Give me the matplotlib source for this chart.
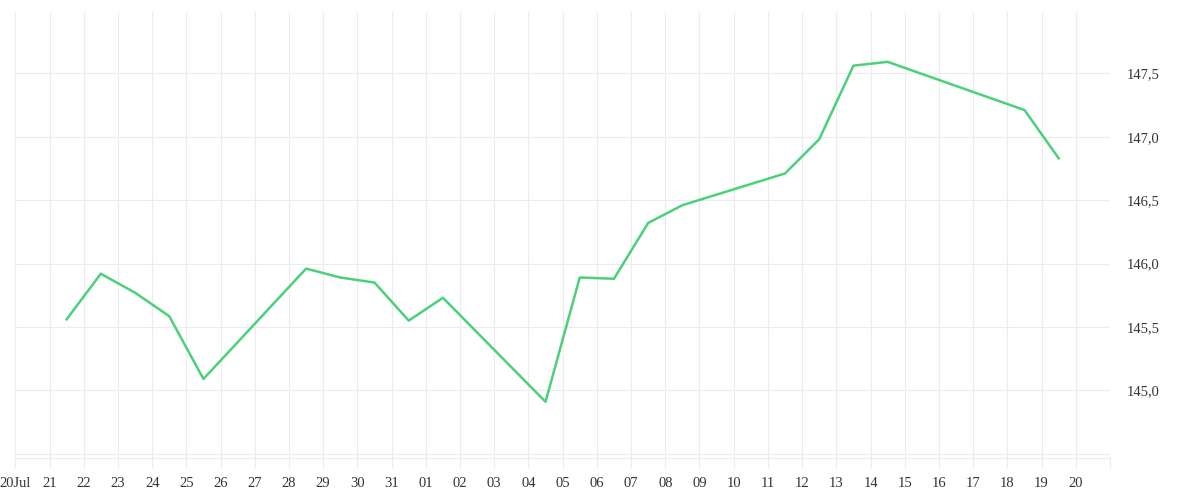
import matplotlib
matplotlib.use("Agg")
import matplotlib.pyplot as plt
from datetime import datetime, timedelta

# data (points sit at midday between the day gridlines)
dates = ["2024-07-21", "2024-07-22", "2024-07-23", "2024-07-24", "2024-07-25",
         "2024-07-28", "2024-07-29", "2024-07-30", "2024-07-31", "2024-08-01",
         "2024-08-04", "2024-08-05", "2024-08-06", "2024-08-07", "2024-08-08",
         "2024-08-11", "2024-08-12", "2024-08-13", "2024-08-14",
         "2024-08-18", "2024-08-19"]
values = [145.56, 145.92, 145.77, 145.585, 145.09,
          145.96, 145.89, 145.85, 145.55, 145.73,
          144.91, 145.89, 145.88, 146.32, 146.46,
          146.71, 146.98, 147.56, 147.59,
          147.21, 146.83]
yticks = [144.5, 145.0, 145.5, 146.0, 146.5, 147.0, 147.5]
ytick_labels = ["", "145,0", "145,5", "146,0", "146,5", "147,0", "147,5"]

x = [datetime.strptime(d, "%Y-%m-%d") + timedelta(hours=12) for d in dates]
start = datetime(2024, 7, 20)
end = datetime(2024, 8, 21)
day_ticks = [start + timedelta(days=i) for i in range((end - start).days + 1)]
day_labels = []
for d in day_ticks:
    if d == start:
        day_labels.append(d.strftime("%d%b"))
    elif d == end:
        day_labels.append("")
    else:
        day_labels.append(d.strftime("%d"))

grid_c = "#ececec"
plt.rcParams["font.family"] = ["Liberation Serif", "DejaVu Serif"]

fig = plt.figure(figsize=(12, 5), dpi=100)
ax = fig.add_axes([15.3 / 1200, 1 - 458 / 500, (1110 - 15.3) / 1200, (458 - 12) / 500])

ax.plot(x, values, color="#4cd07b", lw=1.8, zorder=3)

ax.set_xlim(start, end)
ax.set_ylim(144.467, 147.983)
ax.set_xticks(day_ticks)
ax.set_xticklabels(day_labels)
ax.set_yticks(yticks)
ax.set_yticklabels(ytick_labels)
ax.yaxis.tick_right()

ax.grid(True, color=grid_c, lw=0.8)
for s in ["top", "left", "right"]:
    ax.spines[s].set_visible(False)
ax.spines["bottom"].set_color(grid_c)
ax.spines["bottom"].set_linewidth(0.8)

ax.tick_params(axis="x", length=7.2, width=0.8, color=grid_c, pad=6.5,
               labelsize=10.5, labelcolor="#333333")
ax.tick_params(axis="y", length=0, pad=12, labelsize=10.5, labelcolor="#333333")

fig.savefig("out.png", dpi=100, facecolor="white")
